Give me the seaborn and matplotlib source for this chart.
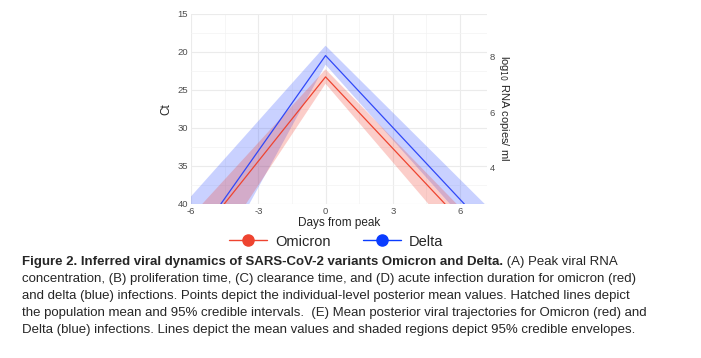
import matplotlib
matplotlib.use("Agg")
from matplotlib import pyplot as plt
from matplotlib.lines import Line2D
import numpy as np
import pandas as pd
import seaborn as sns

# mean trajectories (days from peak, Ct)
omi_days = [-4.52, 0, 5.33]
omi_ct = [40, 23.3, 40]
del_days = [-4.67, 0, 6.19]
del_ct = [40, 20.5, 40]

# 95% envelopes: outer edge (low Ct) and inner edge (high Ct)
omi_outer_days = [-5.5, 0, 5.85]
omi_outer_ct = [40, 22.3, 40]
omi_inner_days = [-3.55, 0, 4.59]
omi_inner_ct = [40, 24.2, 40]
del_outer_days = [-6.3, 0, 7.1]
del_outer_ct = [40, 19.2, 40]
del_inner_days = [-3.4, 0, 5.55]
del_inner_ct = [40, 21.7, 40]

x_ticks = [-6, -3, 0, 3, 6]
ct_ticks = [15, 20, 25, 30, 35, 40]
log_ticks = [4, 6, 8]

caption_bold = "Figure 2. Inferred viral dynamics of SARS-CoV-2 variants Omicron and Delta."
caption_lines = [
    " (A) Peak viral RNA",
    "concentration, (B) proliferation time, (C) clearance time, and (D) acute infection duration for omicron (red)",
    "and delta (blue) infections. Points depict the individual-level posterior mean values. Hatched lines depict",
    "the population mean and 95% credible intervals.  (E) Mean posterior viral trajectories for Omicron (red) and",
    "Delta (blue) infections. Lines depict the mean values and shaded regions depict 95% credible envelopes.",
]

red = "#EE4430"
blue = "#3048F8"

sns.set_style("white")
plt.rcParams["font.family"] = ["Liberation Sans", "DejaVu Sans"]

fig = plt.figure(figsize=(7.01, 3.58), dpi=100)
ax = fig.add_axes([191 / 701, 1 - 204 / 358, 296 / 701, 190.3 / 358])

# bands: outer edge then inner edge reversed -> polygon
for od, oc, idd, ic, col in [
    (del_outer_days, del_outer_ct, del_inner_days, del_inner_ct, "#3050FF"),
    (omi_outer_days, omi_outer_ct, omi_inner_days, omi_inner_ct, "#F04030"),
]:
    ax.fill(od + idd[::-1], oc + ic[::-1], color=col, alpha=0.26, lw=0)

df = pd.concat([
    pd.DataFrame({"day": omi_days, "ct": omi_ct, "variant": "Omicron"}),
    pd.DataFrame({"day": del_days, "ct": del_ct, "variant": "Delta"}),
])
sns.lineplot(data=df, x="day", y="ct", hue="variant", palette={"Omicron": red, "Delta": blue},
             ax=ax, lw=0.9, legend=False, sort=False, estimator=None)

ax.set_xlim(-6, 7.2)
ax.set_ylim(40, 15)
ax.set_xticks(x_ticks)
ax.set_xticklabels([str(t) for t in x_ticks])
ax.set_yticks(ct_ticks)
ax.set_xticks([-4.5, -1.5, 1.5, 4.5], minor=True)
ax.set_yticks([17.5, 22.5, 27.5, 32.5, 37.5], minor=True)
ax.grid(True, which="major", color="#ebebeb", lw=0.8)
ax.grid(True, which="minor", color="#f3f3f3", lw=0.5)
ax.set_axisbelow(True)
for s in ax.spines.values():
    s.set_visible(False)
ax.tick_params(which="both", length=0, labelsize=6.8, labelcolor="#4d4d4d", pad=2)
ax.set_xlabel("Days from peak", fontsize=8.5, labelpad=1)
ax.set_ylabel("Ct", fontsize=8.5, labelpad=4)


def ct2log(c):
    return 8 - (np.asarray(c) - 20.64) / 3.64


def log2ct(l):
    return 20.64 + 3.64 * (8 - np.asarray(l))


sec = ax.secondary_yaxis("right", functions=(ct2log, log2ct))
sec.set_yticks(log_ticks)
sec.tick_params(length=0, labelsize=6.8, labelcolor="#4d4d4d", pad=2)
for s in sec.spines.values():
    s.set_visible(False)
fig.text(504 / 701, 1 - 108 / 358, "log$_{10}$ RNA copies/ ml", fontsize=8, rotation=270,
         ha="center", va="center")

handles = [Line2D([], [], color=red, lw=1, marker="o", ms=8, markeredgecolor=red),
           Line2D([], [], color="#0A3CFF", lw=1, marker="o", ms=8, markeredgecolor="#0A3CFF")]
fig.legend(handles, ["Omicron", "Delta"], loc="center", bbox_to_anchor=(336 / 701, 1 - 241.5 / 358),
           ncol=2, frameon=False, fontsize=10.5, handlelength=2.6, columnspacing=2.2,
           handletextpad=0.55)

# caption
fig.canvas.draw()
r = fig.canvas.get_renderer()
fs = 10
x0 = 22 / 701
ys = [262, 279, 296, 313, 330]
tb = fig.text(x0, 1 - ys[0] / 358, caption_bold, fontsize=fs, fontweight="bold", va="center")
t1 = fig.text(0, 1 - ys[0] / 358, caption_lines[0], fontsize=fs, va="center")
rest = [fig.text(x0, 1 - y / 358, line, fontsize=fs, va="center")
        for line, y in zip(caption_lines[1:], ys[1:])]
widths = [tb.get_window_extent(r).width + t1.get_window_extent(r).width]
widths += [t.get_window_extent(r).width for t in rest]
fs = fs * 628 / max(widths)
for t in [tb, t1] + rest:
    t.set_fontsize(fs)
wb = tb.get_window_extent(r).width
t1.set_x(x0 + wb / 701)

fig.savefig("out.png", dpi=100)
